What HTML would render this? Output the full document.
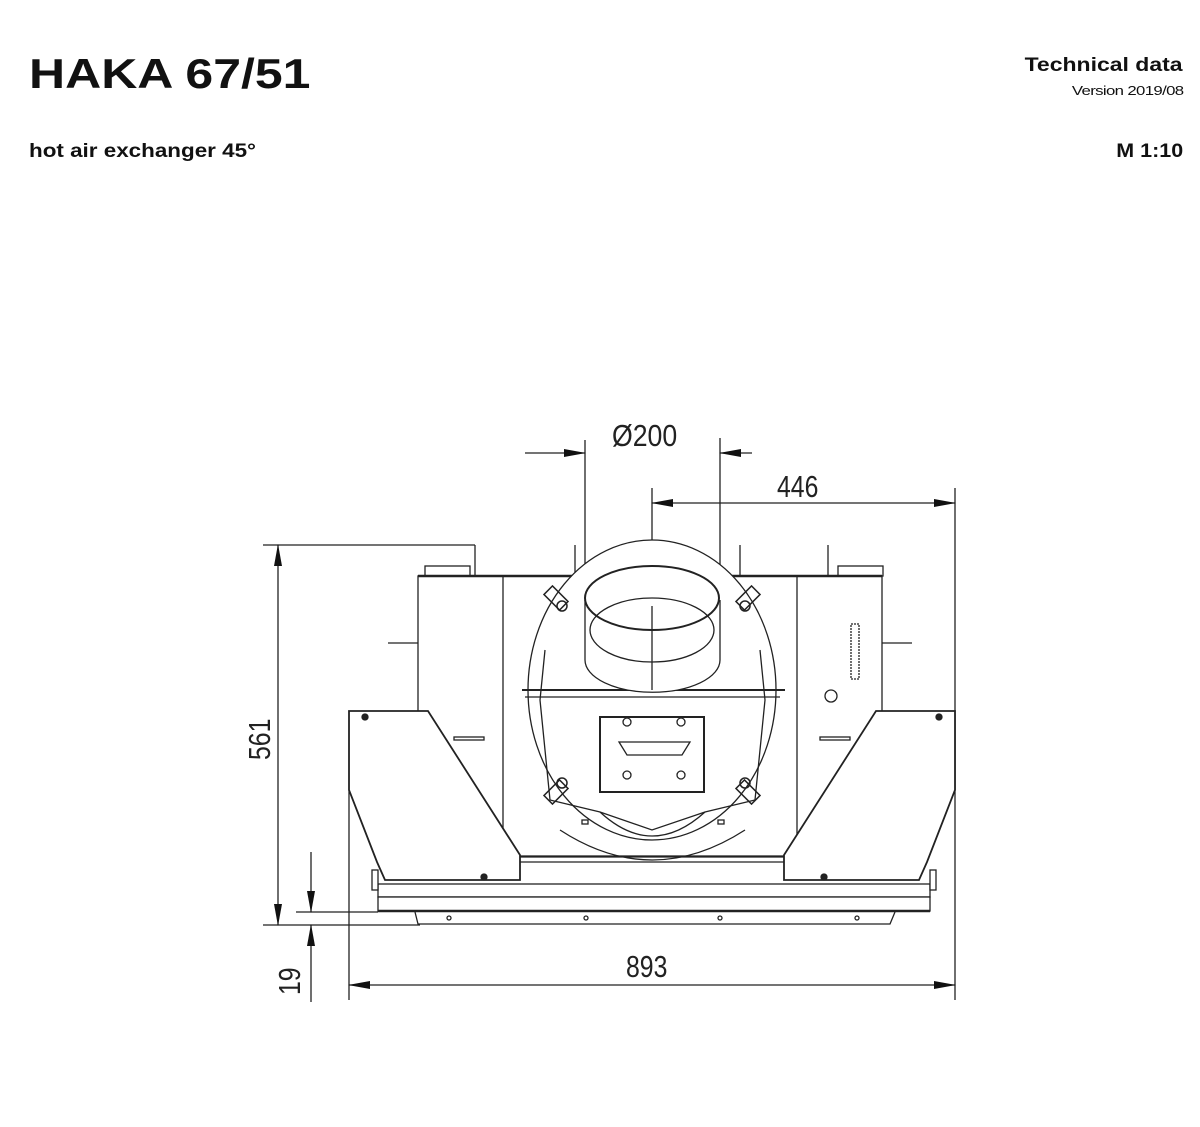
<!DOCTYPE html>
<html><head><meta charset="utf-8"><style>
body{margin:0;background:#fff;width:1200px;height:1127px;overflow:hidden;font-family:"Liberation Sans",sans-serif;}
.t{position:absolute;color:#111;font-weight:bold;white-space:nowrap;}
</style></head><body>
<div class="t" style="left:29px;top:50px;font-size:42px;transform:scaleX(1.19);transform-origin:left top;">HAKA 67/51</div>
<div class="t" style="left:29px;top:141px;font-size:19px;transform:scaleX(1.18);transform-origin:left top;">hot air exchanger 45°</div>
<div class="t" style="right:17px;top:55px;font-size:19px;transform:scaleX(1.21);transform-origin:right top;">Technical data</div>
<div class="t" style="right:17px;top:83px;font-size:13px;font-weight:normal;letter-spacing:-0.5px;transform:scaleX(1.29);transform-origin:right top;">Version 2019/08</div>
<div class="t" style="right:17px;top:141px;font-size:19px;transform:scaleX(1.13);transform-origin:right top;">M 1:10</div>
<svg width="1200" height="1127" style="position:absolute;left:0;top:0" fill="none" stroke="#222" stroke-width="1.3">
<defs>
<marker id="a" markerWidth="22" markerHeight="8" refX="21" refY="4" orient="auto" markerUnits="userSpaceOnUse"><path d="M0,0 L22,4 L0,8Z" fill="#111" stroke="none"/></marker>
</defs>
<g font-family="Liberation Sans Narrow, Liberation Sans, sans-serif" font-size="31" fill="#222" stroke="none">
<text transform="translate(612,446) scale(0.86,1)">Ø200</text>
<text transform="translate(777,497) scale(0.8,1)">446</text>
<text transform="translate(626,977) scale(0.8,1)">893</text>
<text transform="translate(270,760) rotate(-90) scale(0.8,1)">561</text>
<text transform="translate(300,995) rotate(-90) scale(0.8,1)">19</text>
</g>
<line x1="585" y1="440" x2="585" y2="600"/><line x1="720" y1="438" x2="720" y2="600"/>
<line x1="525" y1="453" x2="585" y2="453" marker-end="url(#a)"/>
<line x1="752" y1="453" x2="720" y2="453" marker-end="url(#a)"/>
<line x1="652" y1="488" x2="652" y2="568"/><line x1="955" y1="488" x2="955" y2="1000"/>
<line x1="760" y1="503" x2="652" y2="503" marker-end="url(#a)"/>
<line x1="760" y1="503" x2="955" y2="503" marker-end="url(#a)"/>
<line x1="263" y1="545" x2="475" y2="545"/><line x1="475" y1="545" x2="475" y2="576"/>
<line x1="263" y1="925" x2="420" y2="925"/>
<line x1="278" y1="735" x2="278" y2="545" marker-end="url(#a)"/>
<line x1="278" y1="735" x2="278" y2="925" marker-end="url(#a)"/>
<line x1="296" y1="912" x2="378" y2="912"/>
<line x1="311" y1="852" x2="311" y2="912" marker-end="url(#a)"/>
<line x1="311" y1="1002" x2="311" y2="925" marker-end="url(#a)"/>
<line x1="349" y1="790" x2="349" y2="1000"/>
<line x1="650" y1="985" x2="349" y2="985" marker-end="url(#a)"/>
<line x1="650" y1="985" x2="955" y2="985" marker-end="url(#a)"/>
<rect x="418" y="576" width="464" height="280" />
<line x1="503" y1="576" x2="503" y2="840"/><line x1="797" y1="576" x2="797" y2="840"/>
<line x1="418" y1="576" x2="882" y2="576" stroke-width="2.5"/>
<rect x="425" y="566" width="45" height="10"/><rect x="838" y="566" width="45" height="10"/>
<line x1="575" y1="545" x2="575" y2="576"/><line x1="740" y1="545" x2="740" y2="576"/><line x1="828" y1="545" x2="828" y2="576"/>
<line x1="388" y1="643" x2="418" y2="643"/><line x1="882" y1="643" x2="912" y2="643"/>
<ellipse cx="652" cy="690" rx="124" ry="150" fill="#fff"/>
<path d="M545,650 L540,700 L550,800 L600,812 L652,830 L705,812 L755,800 L765,700 L760,650" />
<path d="M600,812 Q652,860 705,812"/>
<path d="M560,830 Q652,890 745,830"/>
<line x1="522" y1="690" x2="785" y2="690" stroke-width="2"/><line x1="525" y1="697" x2="780" y2="697"/>
<path d="M585,600 L585,660 A67,32 0 0 0 720,660 L720,600" fill="#fff"/>
<ellipse cx="652" cy="598" rx="67" ry="32" fill="#fff" stroke-width="2"/>
<ellipse cx="652" cy="630" rx="62" ry="32"/>
<line x1="652" y1="606" x2="652" y2="690"/>
<g stroke-width="1.5">
<rect x="545" y="592" width="22" height="12" transform="rotate(45 556 598)"/><circle cx="562" cy="606" r="5"/>
<rect x="737" y="592" width="22" height="12" transform="rotate(-45 748 598)"/><circle cx="745" cy="606" r="5"/>
<rect x="545" y="786" width="22" height="12" transform="rotate(-45 556 792)"/><circle cx="562" cy="783" r="5"/>
<rect x="737" y="786" width="22" height="12" transform="rotate(45 748 792)"/><circle cx="745" cy="783" r="5"/>
</g>
<rect x="600" y="717" width="104" height="75" stroke-width="2"/>
<path d="M619,742 L690,742 L682,755 L627,755Z"/>
<circle cx="627" cy="722" r="4"/><circle cx="681" cy="722" r="4"/><circle cx="627" cy="775" r="4"/><circle cx="681" cy="775" r="4"/>
<rect x="851" y="624" width="8" height="55" stroke-dasharray="2 1"/>
<circle cx="831" cy="696" r="6"/>
<rect x="454" y="737" width="30" height="3"/><rect x="820" y="737" width="30" height="3"/>
<rect x="582" y="820" width="6" height="4"/><rect x="718" y="820" width="6" height="4"/>
<path d="M349,711 L428,711 L520,855 L520,880 L385,880 L377,862 L349,790 Z" fill="#fff" stroke-width="1.8"/>
<path d="M955,711 L876,711 L784,855 L784,880 L919,880 L927,862 L955,790 Z" fill="#fff" stroke-width="1.8"/>
<circle cx="365" cy="717" r="3" fill="#222"/><circle cx="939" cy="717" r="3" fill="#222"/>
<circle cx="484" cy="877" r="3" fill="#222"/><circle cx="824" cy="877" r="3" fill="#222"/>
<line x1="520" y1="857" x2="784" y2="857"/><line x1="520" y1="862" x2="784" y2="862"/>
<rect x="378" y="884" width="552" height="13"/>
<rect x="378" y="897" width="552" height="14" fill="#fff"/>
<line x1="378" y1="911" x2="930" y2="911" stroke-width="2.5"/>
<path d="M415,912 L418,924 L890,924 L895,912"/>
<rect x="372" y="870" width="6" height="20" fill="#fff"/><rect x="930" y="870" width="6" height="20" fill="#fff"/>
<circle cx="449" cy="918" r="2"/><circle cx="586" cy="918" r="2"/><circle cx="720" cy="918" r="2"/><circle cx="857" cy="918" r="2"/>
</svg>
</body></html>
